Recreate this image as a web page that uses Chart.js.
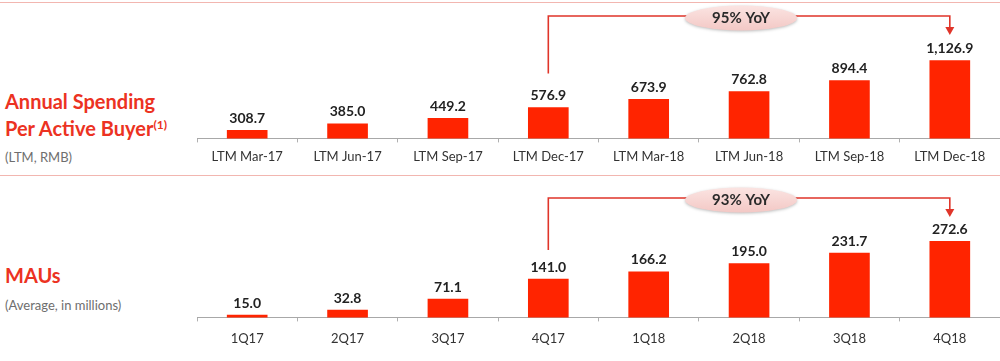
<!DOCTYPE html>
<html>
<head>
<meta charset="utf-8">
<script src="https://cdn.jsdelivr.net/npm/chart.js@4.4.1/dist/chart.umd.min.js"></script>
<style>
  html, body { margin:0; padding:0; background:#fff; width:1000px; height:361px; overflow:hidden; position:relative; }
  .sep { position:absolute; left:0; width:1000px; height:0; border-top:1px solid #f2b6b0; }
  .title { position:absolute; left:5px; font-family:Lato, sans-serif; font-weight:bold; color:#ec3222; font-size:20px; line-height:26px; white-space:nowrap; }
  .title sup { font-size:12px; vertical-align:7px; line-height:0; }
  .sub { position:absolute; left:5px; font-family:Lato, sans-serif; color:#6e6e6e; font-size:13px; white-space:nowrap; }
  canvas { position:absolute; left:197px; }
</style>
</head>
<body>
<div class="sep" style="top:2px"></div>
<div class="sep" style="top:175px"></div>

<div class="title" style="top:88px">Annual Spending</div>
<div class="title" style="top:115px">Per Active Buyer<sup>(1)</sup></div>
<div class="sub" style="top:149px">(LTM, RMB)</div>

<div class="title" style="top:262px">MAUs</div>
<div class="sub" style="top:297px">(Average, in millions)</div>

<canvas id="c1" width="803" height="172" style="top:0px"></canvas>
<canvas id="c2" width="803" height="175" style="top:182px"></canvas>

<script>
const spendLabels = ['LTM Mar-17','LTM Jun-17','LTM Sep-17','LTM Dec-17','LTM Mar-18','LTM Jun-18','LTM Sep-18','LTM Dec-18'];
const spendValues = [308.7, 385.0, 449.2, 576.9, 673.9, 762.8, 894.4, 1126.9];
const spendYoY = '95% YoY';

const mauLabels = ['1Q17','2Q17','3Q17','4Q17','1Q18','2Q18','3Q18','4Q18'];
const mauValues = [15.0, 32.8, 71.1, 141.0, 166.2, 195.0, 231.7, 272.6];
const mauYoY = '93% YoY';

const BAR = '#ff2400';
const LINE = '#e0352a';

const valueLabels = {
  id: 'valueLabels',
  afterDatasetsDraw(chart) {
    const ctx = chart.ctx;
    const meta = chart.getDatasetMeta(0);
    const data = chart.data.datasets[0].data;
    ctx.save();
    ctx.font = 'bold 14px Lato, sans-serif';
    ctx.fillStyle = '#222';
    ctx.textAlign = 'center';
    ctx.textBaseline = 'bottom';
    meta.data.forEach((bar, i) => {
      const txt = data[i].toLocaleString('en-US', {minimumFractionDigits:1, maximumFractionDigits:1});
      ctx.fillText(txt, bar.x, bar.y - 5);
    });
    ctx.restore();
  }
};

const bracket = {
  id: 'bracket',
  afterDraw(chart, args, opts) {
    const ctx = chart.ctx;
    const meta = chart.getDatasetMeta(0);
    const a = meta.data[opts.from], b = meta.data[opts.to];
    const yTop = 16;
    const x1 = a.x, x2 = b.x;
    const yStart = a.y - opts.gap;
    const tip = 35;
    ctx.save();
    ctx.strokeStyle = LINE;
    ctx.lineWidth = 1.6;
    ctx.beginPath();
    ctx.moveTo(x1, yStart);
    ctx.lineTo(x1, yTop);
    ctx.lineTo(x2, yTop);
    ctx.lineTo(x2, tip - 6);
    ctx.stroke();
    ctx.fillStyle = LINE;
    ctx.beginPath();
    ctx.moveTo(x2 - 4.5, tip - 8);
    ctx.lineTo(x2 + 4.5, tip - 8);
    ctx.lineTo(x2, tip);
    ctx.closePath();
    ctx.fill();
    // pill
    const cx = (x1 + x2) / 2 - 8, cy = yTop + 2;
    const w = 112, h = 25;
    ctx.shadowColor = 'rgba(0,0,0,0.25)';
    ctx.shadowBlur = 3;
    ctx.shadowOffsetY = 1;
    const g = ctx.createLinearGradient(0, cy - h/2, 0, cy + h/2);
    g.addColorStop(0, '#fbe4e2');
    g.addColorStop(1, '#f3c8c5');
    ctx.fillStyle = g;
    ctx.beginPath();
    ctx.ellipse(cx, cy, w/2, h/2, 0, 0, Math.PI * 2);
    ctx.fill();
    ctx.shadowColor = 'transparent';
    ctx.fillStyle = '#2a2a2a';
    ctx.font = 'bold 15px Lato, sans-serif';
    ctx.textAlign = 'center';
    ctx.textBaseline = 'middle';
    ctx.fillText(opts.text, cx, cy);
    ctx.restore();
  }
};

function makeChart(id, labels, values, min, max, text, pad, gap) {
  return new Chart(document.getElementById(id), {
    type: 'bar',
    data: {
      labels: labels,
      datasets: [{
        data: values,
        backgroundColor: BAR,
        borderWidth: 0,
        barThickness: 40
      }]
    },
    options: {
      responsive: false,
      animation: false,
      devicePixelRatio: 1,
      layout: { padding: 0 },
      plugins: {
        legend: { display: false },
        tooltip: { enabled: false },
        bracket: { from: 3, to: 7, text: text, gap: gap }
      },
      scales: {
        x: {
          offset: true,
          grid: { offset: true, drawOnChartArea: false, drawTicks: true, tickLength: 4, color: '#b0b0b0' },
          border: { color: '#a8a8a8', width: 1 },
          ticks: { color: '#333', font: { family: 'Lato', size: 13 }, padding: pad, maxRotation: 0, autoSkip: false }
        },
        y: { display: false, min: min, max: max }
      }
    },
    plugins: [valueLabels, bracket]
  });
}

makeChart('c1', spendLabels, spendValues, 214, 1840, spendYoY, 7, 34);
makeChart('c2', mauLabels, mauValues, 7, 480, mauYoY, 10, 29);
</script>
</body>
</html>
